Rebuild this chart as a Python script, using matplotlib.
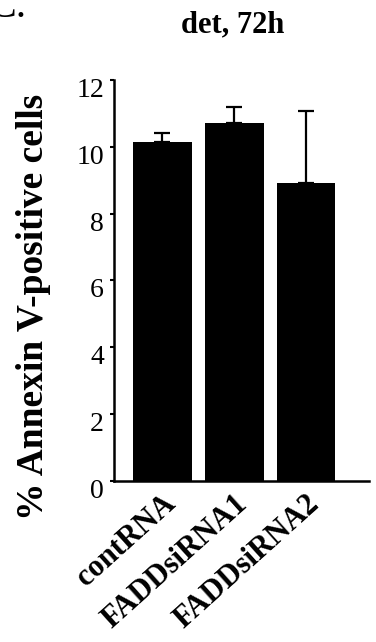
import matplotlib
matplotlib.use("Agg")
import matplotlib.pyplot as plt
import matplotlib.transforms as mtransforms

# Annexin V staining after FADD knockdown, detached cells at 72h
groups = ["contRNA", "FADDsiRNA1", "FADDsiRNA2"]
means = [10.15, 10.7, 8.92]
errors = [0.27, 0.5, 2.16]
yticks = [0, 2, 4, 6, 8, 10, 12]

serif = ["Liberation Serif", "DejaVu Serif"]
plt.rcParams["font.family"] = serif

fig = plt.figure(figsize=(3.76, 6.42), dpi=100)
ax = fig.add_axes([0.302, 0.2508, 0.679, 0.6246])

x = list(range(len(groups)))
ax.bar(x, means, width=0.82, color="black", edgecolor="none", zorder=2)
ax.errorbar(x, means, yerr=[[0] * len(errors), errors], fmt="none",
            ecolor="black", elinewidth=1.6, capsize=5.5, capthick=1.6, zorder=1)

ax.set_xlim(-0.68, 2.875)
ax.set_ylim(0, 12)
ax.set_yticks(yticks)
ax.set_yticklabels([])
ax.set_xticks([])

# tick labels drawn by hand: numbers sit a little below their ticks
ylab_tf = ax.get_yaxis_transform() + mtransforms.ScaledTranslation(
    -0.095, -0.105, fig.dpi_scale_trans)
for t in yticks:
    ax.text(0, t, str(t), transform=ylab_tf, ha="right", va="center",
            fontsize=20, clip_on=False)

xlab_tf = ax.transData + mtransforms.ScaledTranslation(
    0.0, -0.08, fig.dpi_scale_trans)
for i, g in zip(x, groups):
    ax.text(i, 0, g, transform=xlab_tf, rotation=42, ha="right", va="top",
            rotation_mode="anchor", fontsize=22, fontweight="bold",
            clip_on=False)

ax.tick_params(axis="y", direction="out", length=3, width=1.5)
for side in ["top", "right"]:
    ax.spines[side].set_visible(False)
for side in ["left", "bottom"]:
    ax.spines[side].set_linewidth(1.8)

fig.text(0.09, 0.522, "% Annexin V-positive cells", rotation=90,
         ha="center", va="center", fontsize=27, fontweight="bold")
fig.text(0.62, 0.961, "det, 72h", ha="center", va="center",
         fontsize=22, fontweight="bold")
fig.text(-0.032, 1 - 17 / 642, "C.", ha="left", va="baseline", fontsize=30)

fig.savefig("out.png", dpi=100)
